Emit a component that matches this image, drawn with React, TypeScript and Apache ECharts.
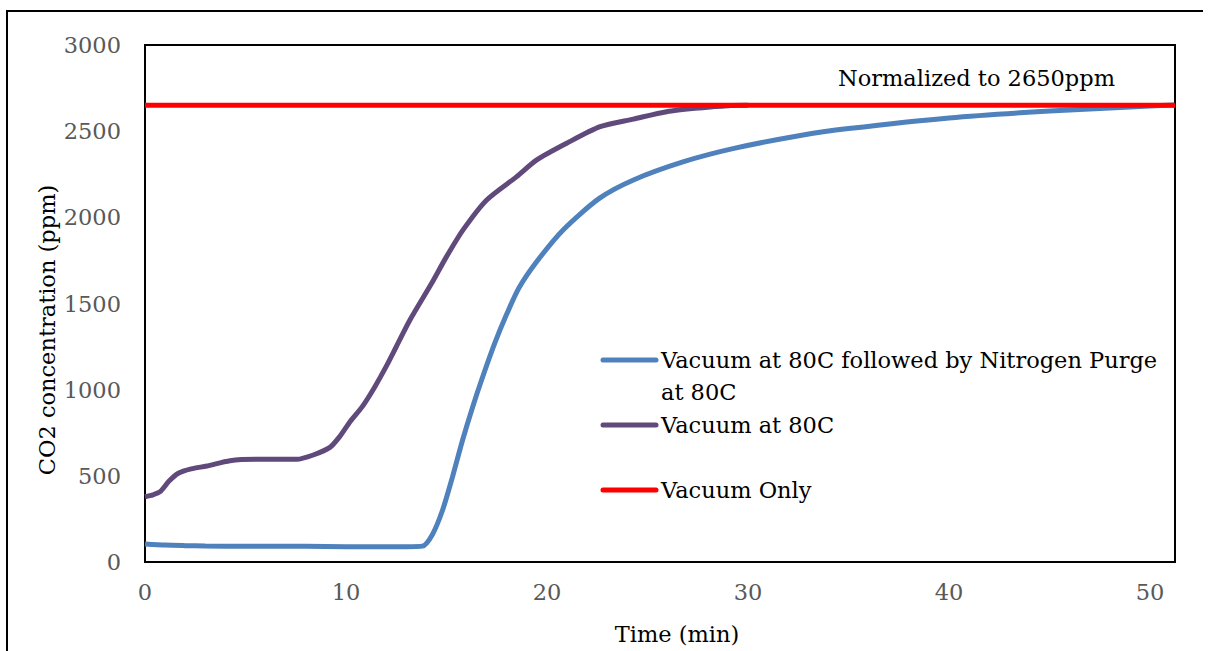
import React, { useEffect, useRef } from "react";
import * as echarts from "echarts";

const blueName = "Vacuum at 80C followed by Nitrogen Purge at 80C";
const purpleName = "Vacuum at 80C";
const redName = "Vacuum Only";

const blueTime = [0, 1, 2, 3, 5, 8, 10, 12, 13, 13.8, 14.3, 14.8, 15.3, 15.8, 16.3, 16.8, 17.4, 18.0, 18.6, 19.5, 20.8, 22.6, 24.3, 26.8, 29.3, 32.6, 35, 40, 45, 50, 51.2];
const blueValue = [105, 98, 95, 93, 91, 91, 89, 89, 89, 92, 160, 300, 495, 708, 900, 1075, 1270, 1440, 1590, 1745, 1927, 2110, 2217, 2323, 2400, 2475, 2515, 2577, 2617, 2646, 2652];

const purpleTime = [0, 0.4, 0.75, 1.2, 1.66, 2.3, 3.07, 4.23, 5.56, 7.55, 8.37, 9.2, 9.7, 10.2, 10.8, 11.4, 12.0, 12.5, 13.18, 14.26, 15.0, 15.84, 17.0, 18.49, 19.49, 20.98, 22.64, 24.3, 25.95, 27.6, 29, 30];
const purpleValue = [379, 390, 408, 470, 515, 540, 557, 588, 596, 596, 621, 665, 730, 814, 900, 1010, 1135, 1249, 1404, 1617, 1772, 1930, 2101, 2236, 2333, 2430, 2526, 2570, 2613, 2635, 2648, 2650];

const redTime = [0, 51.24];
const redValue = [2650, 2650];

const xTitle = "Time (min)";
const yTitle = "CO2 concentration (ppm)";
const note = "Normalized to 2650ppm";

const FONT = "DejaVu Serif";
const FS = 22.5;

const zip = (a: number[], b: number[]) => a.map((t, i) => [t, b[i]]);

export default function App() {
  const ref = useRef<HTMLDivElement>(null);
  useEffect(() => {
    if (!ref.current) return;
    const chart = echarts.init(ref.current, null, { renderer: "svg" });
    const legendItems = [
      { name: blueName, color: "#4F81BD", lines: ["Vacuum at 80C followed by Nitrogen Purge", "at 80C"], y: 360 },
      { name: purpleName, color: "#604A7B", lines: ["Vacuum at 80C"], y: 425 },
      { name: redName, color: "#FF0000", lines: ["Vacuum Only"], y: 490 },
    ];
    const legendGraphics: any[] = [];
    legendItems.forEach((it) => {
      legendGraphics.push({
        type: "line",
        shape: { x1: 603, y1: it.y, x2: 656, y2: it.y },
        style: { stroke: it.color, lineWidth: 5, lineCap: "round" },
      });
      it.lines.forEach((ln, k) => {
        legendGraphics.push({
          type: "text",
          x: 661,
          y: it.y + k * 32,
          style: { text: ln, font: `${FS}px '${FONT}'`, fill: "#000", verticalAlign: "middle", align: "left" },
        });
      });
    });
    chart.setOption({
      animation: false,
      backgroundColor: "#fff",
      grid: { left: 145, top: 45, width: 1030, height: 517, show: true, borderColor: "#000", borderWidth: 2, containLabel: false },
      xAxis: {
        type: "value",
        min: 0,
        max: 51.24,
        interval: 10,
        axisLine: { show: false },
        axisTick: { show: false },
        splitLine: { show: false },
        axisLabel: { color: "#595959", fontFamily: FONT, fontSize: FS, margin: 18, showMaxLabel: false, formatter: (v: number) => String(v) },
      },
      yAxis: {
        type: "value",
        min: 0,
        max: 3000,
        interval: 500,
        axisLine: { show: false },
        axisTick: { show: false },
        splitLine: { show: false },
        axisLabel: { color: "#595959", fontFamily: FONT, fontSize: FS, margin: 24, formatter: (v: number) => String(v) },
      },
      series: [
        { name: blueName, type: "line", data: zip(blueTime, blueValue), showSymbol: false, smooth: 0.25, lineStyle: { color: "#4F81BD", width: 5 }, itemStyle: { color: "#4F81BD" }, z: 2 },
        { name: purpleName, type: "line", data: zip(purpleTime, purpleValue), showSymbol: false, smooth: 0.25, lineStyle: { color: "#604A7B", width: 5 }, itemStyle: { color: "#604A7B" }, z: 3 },
        { name: redName, type: "line", data: zip(redTime, redValue), showSymbol: false, lineStyle: { color: "#FF0000", width: 5 }, itemStyle: { color: "#FF0000" }, z: 4 },
      ],
      graphic: [
        { type: "line", shape: { x1: 7, y1: 11, x2: 7, y2: 651 }, style: { stroke: "#000", lineWidth: 2 } },
        { type: "line", shape: { x1: 6, y1: 11, x2: 1203, y2: 11 }, style: { stroke: "#000", lineWidth: 2 } },
        { type: "text", x: 47, y: 330, rotation: Math.PI / 2, style: { text: yTitle, font: `${FS}px '${FONT}'`, fill: "#000", align: "center", verticalAlign: "middle" } },
        { type: "text", x: 677, y: 634, style: { text: xTitle, font: `${FS}px '${FONT}'`, fill: "#000", align: "center", verticalAlign: "middle" } },
        { type: "text", x: 838, y: 78, style: { text: note, font: `${FS}px '${FONT}'`, fill: "#000", align: "left", verticalAlign: "middle" } },
        ...legendGraphics,
      ],
    });
    return () => chart.dispose();
  }, []);
  return <div ref={ref} style={{ position: "fixed", left: 0, top: 0, width: 1213, height: 651 }} />;
}
